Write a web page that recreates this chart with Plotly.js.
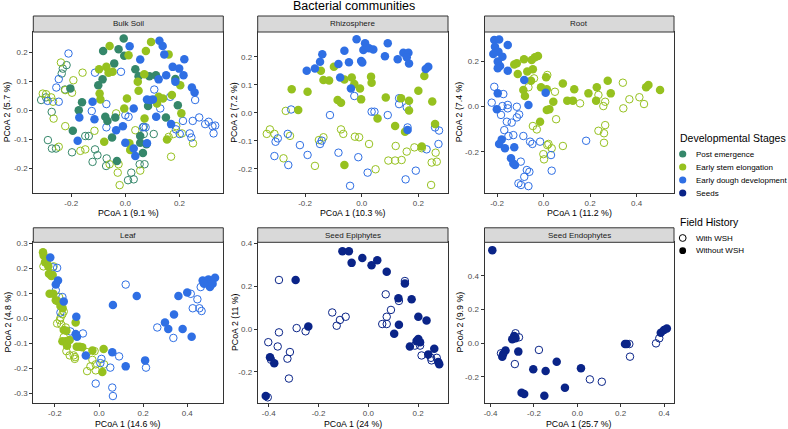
<!DOCTYPE html>
<html><head><meta charset="utf-8">
<script src="https://cdn.plot.ly/plotly-3.0.1.min.js"></script>
<style>html,body{margin:0;padding:0;background:#fff}#chart{width:788px;height:429px}</style>
</head><body><div id="chart"></div>
<script>
// ---------------- DATA ----------------
const stageNames = ['Post emergence','Early stem elongation','Early dough development','Seeds'];
const historyNames = ['With WSH','Without WSH'];
const panelNames = ['Bulk Soil','Rhizosphere','Root','Leaf','Seed Epiphytes','Seed Endophytes'];
const xTitles = ['PCoA 1 (9.1 %)','PCoA 1 (10.3 %)','PCoA 1 (11.2 %)','PCoA 1 (14.6 %)','PCoA 1 (24 %)','PCoA 1 (25.7 %)'];
const yTitles = ['PCoA 2 (5.7 %)','PCoA 2 (7.2 %)','PCoA 2 (7.4 %)','PCoA 2 (4.8 %)','PCoA 2 (11 %)','PCoA 2 (9.9 %)'];

// Bulk Soil
const bulk_post_without = [[-0.006,0.248],[-0.082,0.205],[-0.025,0.211],[-0.004,0.188],[-0.041,0.162],[0.037,0.142],[-0.084,0.107],[-0.100,0.087],[0.049,0.118],[0.089,0.118],[0.113,0.121],[0.185,0.108],[-0.203,0.076],[-0.160,0.028],[-0.172,0.001],[-0.074,-0.022],[-0.037,-0.024],[-0.066,-0.036],[0.150,-0.024],[-0.194,-0.070],[-0.049,-0.093],[0.055,-0.088],[0.055,-0.111],[0.078,-0.116],[0.065,-0.146],[-0.031,-0.174],[0.194,0.018],[0.084,0.015]];
const bulk_post_with = [[-0.286,-0.102],[-0.271,-0.131],[-0.256,-0.131],[-0.311,0.036],[-0.293,0.045],[-0.217,0.156],[-0.231,0.144],[-0.235,0.127],[-0.223,0.072],[-0.272,-0.005],[-0.112,-0.134],[-0.103,-0.154],[-0.121,-0.177],[-0.069,-0.165],[-0.071,-0.191],[0.022,-0.214],[0.010,-0.240],[0.031,-0.237],[-0.197,-0.144],[-0.148,-0.088],[-0.135,-0.088],[0.105,-0.081],[0.068,-0.056],[0.053,-0.185],[0.071,-0.185],[0.068,-0.081]];
const bulk_stem_without = [[-0.058,0.222],[0.012,0.190],[0.095,0.236],[0.076,0.205],[0.160,0.193],[-0.097,0.142],[-0.070,0.150],[-0.062,0.130],[-0.047,0.133],[0.070,0.125],[0.203,0.087],[-0.095,0.058],[-0.092,0.038],[0.006,0.041],[0.049,0.068],[0.046,0.099],[0.123,0.047],[0.139,0.041],[0.117,0.024],[-0.004,0.007],[0.071,-0.028],[-0.078,-0.108],[0.018,-0.136],[0.154,-0.100],[0.015,-0.113],[0.172,0.053],[0.207,-0.010]];
const bulk_stem_with = [[-0.238,0.165],[-0.222,0.070],[-0.197,0.061],[-0.293,0.056],[-0.274,0.045],[-0.267,0.030],[-0.265,-0.028],[-0.246,-0.125],[-0.166,-0.139],[-0.148,-0.134],[-0.222,-0.054],[0.188,-0.054],[0.178,-0.081],[0.209,-0.079],[0.250,-0.113],[0.160,-0.091],[0.169,-0.159],[-0.058,-0.185],[-0.025,-0.185],[-0.028,-0.214],[0.055,-0.207],[-0.021,-0.257],[-0.158,0.130],[-0.192,0.104],[-0.305,0.058],[-0.114,-0.070],[-0.034,-0.010],[0.037,-0.068]];
const bulk_dough_without = [[0.016,0.221],[0.126,0.240],[0.138,0.222],[0.144,0.193],[0.055,0.175],[0.175,0.150],[0.199,0.144],[0.151,0.121],[0.215,0.121],[0.246,0.079],[0.256,0.062],[0.092,0.036],[0.080,0.038],[0.102,0.038],[0.031,0.007],[-0.170,-0.024],[-0.114,-0.030],[0.114,-0.022],[0.169,-0.047],[-0.176,-0.104],[-0.009,-0.054],[0.000,-0.111],[0.031,-0.131],[0.037,-0.157],[0.123,0.107],[0.185,0.099],[0.080,-0.113],[-0.121,0.030],[-0.034,-0.068],[0.218,0.176]];
const bulk_dough_with = [[-0.210,0.196],[-0.016,0.133],[-0.246,0.108],[-0.255,0.079],[-0.246,0.030],[-0.287,0.033],[0.258,0.036],[0.107,0.072],[-0.070,0.022],[0.129,0.007],[0.000,-0.016],[0.012,-0.022],[0.213,-0.036],[0.249,-0.036],[0.273,-0.024],[0.295,-0.047],[0.308,-0.039],[0.322,-0.054],[0.332,-0.052],[0.201,-0.081],[0.238,-0.079],[0.065,-0.058],[0.075,-0.058],[-0.070,-0.058],[0.166,0.047],[0.326,-0.079],[0.187,-0.065],[0.244,-0.093],[-0.124,-0.002],[-0.112,0.130]];

// Rhizosphere
const rhizo_dough_without = [[-0.018,0.262],[0.012,0.248],[0.006,0.224],[0.026,0.230],[0.041,0.226],[0.092,0.248],[-0.061,0.221],[-0.139,0.209],[-0.147,0.182],[-0.082,0.174],[-0.045,0.180],[-0.002,0.185],[0.002,0.179],[0.082,0.202],[0.127,0.191],[0.147,0.214],[0.165,0.214],[0.159,0.198],[0.167,0.176],[-0.194,0.150],[-0.165,0.158],[0.235,0.164],[0.226,0.156],[-0.076,0.126],[-0.038,0.087],[0.162,-0.061]];
const rhizo_dough_with = [[-0.249,0.012],[-0.112,-0.008],[-0.026,0.060],[0.035,0.004],[0.045,0.004],[0.092,-0.008],[0.132,0.052],[0.132,0.031],[0.159,0.020],[0.259,-0.052],[0.273,-0.063],[-0.296,-0.091],[-0.304,-0.103],[-0.261,-0.075],[-0.218,-0.115],[-0.147,-0.111],[-0.141,-0.099],[-0.191,-0.150],[-0.082,-0.142],[-0.012,-0.158],[-0.308,-0.154],[-0.259,-0.186],[0.021,-0.213],[-0.041,-0.260],[0.155,-0.237],[0.191,-0.206],[0.271,-0.111],[0.229,-0.130],[0.162,-0.052]];
const rhizo_stem_without = [[-0.098,0.164],[-0.144,0.150],[-0.135,0.117],[-0.115,0.115],[-0.061,0.119],[-0.035,0.126],[-0.026,0.103],[-0.006,0.087],[-0.247,0.084],[-0.191,0.075],[-0.085,0.046],[-0.073,0.036],[-0.002,0.048],[-0.224,0.010],[0.033,0.129],[0.035,0.107],[0.085,0.055],[0.139,0.052],[0.167,0.043],[0.167,0.008],[0.200,0.079],[0.249,0.040],[0.221,0.131],[0.056,-0.020],[0.118,-0.047],[0.153,-0.067],[0.259,-0.040],[0.212,-0.120],[-0.061,-0.186]];
const rhizo_stem_with = [[-0.268,0.007],[-0.324,-0.059],[-0.335,-0.075],[-0.308,-0.075],[-0.253,-0.082],[-0.151,-0.097],[-0.135,-0.087],[-0.073,-0.059],[-0.065,-0.075],[-0.024,-0.085],[-0.009,-0.087],[0.026,-0.111],[0.120,-0.118],[0.159,-0.138],[0.186,-0.123],[0.212,-0.126],[0.261,-0.142],[-0.276,-0.162],[-0.165,-0.189],[0.094,-0.170],[0.118,-0.170],[0.141,-0.168],[0.247,-0.177],[0.265,-0.174],[0.245,-0.257],[0.049,-0.201]];

// Root
const root_dough_without = [[-0.212,0.293],[-0.191,0.296],[-0.154,0.271],[-0.209,0.264],[-0.194,0.242],[-0.216,0.232],[-0.177,0.220],[-0.197,0.198],[-0.187,0.179],[-0.197,0.169],[-0.154,0.158],[-0.083,0.117],[-0.197,0.058],[0.009,0.061],[-0.201,-0.012],[-0.065,0.007],[-0.180,-0.145],[-0.191,-0.165],[-0.166,-0.184],[-0.126,-0.180],[-0.140,-0.228],[-0.130,-0.251],[-0.123,-0.258]];
const root_dough_with = [[-0.212,0.087],[-0.223,0.017],[-0.177,0.002],[-0.154,0.007],[-0.154,-0.008],[-0.115,-0.001],[-0.183,-0.037],[-0.158,-0.067],[-0.115,-0.048],[-0.105,-0.035],[-0.169,-0.104],[-0.130,-0.126],[-0.087,-0.130],[-0.151,-0.130],[-0.058,-0.155],[-0.048,-0.165],[0.032,-0.214],[-0.072,-0.280],[-0.083,-0.310],[-0.108,-0.339],[-0.097,-0.346],[-0.065,-0.351],[-0.015,-0.155],[0.035,-0.283],[-0.061,-0.288],[0.183,-0.151],[-0.098,-0.243],[-0.173,0.055],[-0.137,-0.071]];
const root_stem_without = [[-0.115,0.191],[-0.126,0.185],[-0.084,0.208],[-0.051,0.205],[-0.037,0.217],[-0.024,0.223],[-0.111,0.143],[-0.070,0.154],[-0.046,0.164],[-0.054,0.114],[0.011,0.129],[0.083,0.102],[-0.011,0.085],[0.014,0.076],[-0.087,0.073],[-0.080,0.046],[0.042,0.021],[0.025,-0.012],[0.014,-0.015],[-0.015,-0.067],[0.132,0.076],[0.193,0.058],[0.229,0.085],[0.276,0.114],[0.289,0.058],[0.102,0.026],[0.126,0.026],[0.226,0.026],[0.441,0.085],[0.451,0.095],[0.501,0.073]];
const root_stem_with = [[-0.041,0.124],[0.016,0.139],[-0.065,0.085],[0.049,0.065],[0.157,0.014],[0.236,0.051],[0.265,0.021],[0.257,0.002],[0.341,0.105],[0.369,0.032],[0.412,0.041],[0.432,0.011],[0.343,-0.008],[0.054,-0.056],[-0.046,-0.086],[-0.029,-0.101],[0.016,-0.170],[0.035,-0.184],[-0.001,-0.210],[0.002,-0.233],[0.083,-0.174],[0.265,-0.082],[0.260,-0.118],[0.260,-0.160],[0.236,-0.107],[0.021,-0.165]];

// Leaf
const leaf_dough_without = [[-0.221,0.245],[-0.186,0.152],[-0.196,0.136],[-0.160,0.068],[-0.103,0.007],[-0.106,-0.062],[-0.100,-0.073],[0.063,0.054],[-0.060,-0.148],[0.060,-0.135],[0.121,-0.192],[0.171,0.090],[0.209,-0.168],[0.299,-0.016],[0.314,-0.042],[0.340,0.016],[0.379,-0.042],[0.420,-0.073],[0.360,0.090],[0.400,0.104],[0.470,0.152],[0.485,0.150],[0.496,0.156],[0.506,0.147],[0.526,0.163],[0.503,0.126],[0.476,0.139],[0.515,0.139]];
const leaf_dough_with = [[-0.209,0.205],[-0.190,0.203],[-0.166,0.086],[-0.196,0.113],[-0.175,0.024],[-0.130,-0.052],[-0.073,-0.060],[0.121,0.136],[0.011,-0.162],[0.006,-0.179],[0.051,-0.197],[0.091,-0.152],[-0.015,-0.261],[0.060,-0.277],[0.063,-0.311],[0.213,-0.197],[0.264,-0.036],[0.337,-0.078],[0.416,0.099],[0.446,0.077],[0.455,0.041],[0.465,0.030],[0.425,0.041],[0.461,0.126]];
const leaf_stem_without = [[-0.254,0.266],[-0.251,0.253],[-0.245,0.226],[-0.236,0.236],[-0.230,0.209],[-0.227,0.179],[-0.216,0.170],[-0.210,0.174],[-0.224,0.099],[-0.207,0.099],[-0.196,0.073],[-0.189,0.070],[-0.175,0.050],[-0.165,0.041],[-0.106,-0.016],[-0.160,-0.046],[-0.148,-0.049],[-0.166,-0.091],[-0.151,-0.091],[-0.145,-0.109],[-0.133,-0.086],[-0.101,-0.113],[-0.088,-0.113],[-0.076,-0.115],[-0.030,-0.128],[0.021,-0.122],[0.015,-0.215]];
const leaf_stem_with = [[-0.236,0.226],[-0.206,0.209],[-0.252,0.209],[-0.181,0.086],[-0.160,0.028],[-0.166,0.017],[-0.178,-0.007],[-0.190,-0.020],[-0.171,-0.025],[-0.151,-0.036],[-0.160,-0.075],[-0.148,-0.131],[-0.133,-0.148],[-0.115,-0.148],[-0.110,-0.162],[-0.054,-0.135],[-0.020,-0.131],[-0.030,-0.166],[-0.015,-0.184],[-0.039,-0.192],[-0.054,-0.211],[-0.015,-0.208],[-0.174,0.004],[0.023,-0.184],[-0.109,-0.155]];

// Seed Epiphytes
const epi_seeds_without = [[-0.104,0.364],[-0.078,0.364],[-0.067,0.310],[-0.024,0.333],[0.013,0.299],[0.036,0.322],[0.074,0.268],[-0.292,0.230],[0.147,0.213],[0.121,0.145],[0.174,0.140],[-0.241,0.012],[0.123,0.021],[0.201,0.058],[0.234,0.040],[0.104,-0.022],[0.201,-0.046],[0.194,-0.056],[0.208,-0.061],[0.167,-0.081],[0.265,-0.092],[0.241,-0.118],[0.281,-0.154],[0.285,-0.164],[-0.395,-0.131],[-0.378,-0.159],[-0.412,-0.313]];
const epi_seeds_with = [[-0.359,0.230],[0.147,0.225],[0.070,0.163],[0.123,0.132],[-0.145,0.078],[-0.091,0.058],[-0.114,0.043],[-0.127,0.016],[0.091,0.090],[0.074,0.058],[0.074,0.024],[0.056,0.024],[-0.288,0.005],[-0.252,-0.010],[-0.359,-0.015],[-0.402,-0.061],[-0.364,-0.081],[-0.315,-0.107],[-0.325,-0.138],[-0.319,-0.231],[-0.391,-0.143],[0.187,-0.077],[0.208,-0.077],[0.214,-0.123],[0.252,-0.134],[0.254,-0.146],[0.275,-0.134],[-0.404,-0.319]];

// Seed Endophytes
const endo_seeds_without = [[-0.392,0.553],[-0.291,0.043],[-0.285,0.029],[-0.300,0.023],[-0.331,-0.044],[-0.342,-0.064],[-0.346,-0.080],[-0.272,-0.050],[-0.203,-0.155],[-0.146,-0.165],[-0.095,-0.110],[0.017,-0.149],[-0.057,-0.264],[-0.257,-0.294],[-0.245,-0.302],[-0.152,-0.312],[0.220,-0.005],[0.228,-0.005],[0.385,0.062],[0.400,0.078],[0.413,0.088]];
const endo_seeds_with = [[-0.285,0.059],[-0.269,0.035],[-0.352,-0.060],[-0.288,-0.124],[-0.177,-0.040],[0.058,-0.215],[0.113,-0.229],[0.240,-0.005],[0.243,-0.080],[0.378,0.029],[0.363,-0.001]];

// Tick labels
const ticks2 = [-0.2, 0.0, 0.2];
const ticks2Text = ['-0.2','0.0','0.2'];
const ticks1 = [-0.2,-0.1,0.0,0.1,0.2];
const ticks1Text = ['-0.2','-0.1','0.0','0.1','0.2'];
const ticksRootX = [-0.2,0.0,0.2,0.4];
const ticksRootXText = ['-0.2','0.0','0.2','0.4'];
const ticksLeafY = [-0.3,-0.2,-0.1,0.0,0.1,0.2,0.3];
const ticksLeafYText = ['-0.3','-0.2','-0.1','0.0','0.1','0.2','0.3'];
const ticksEpiX = [-0.4,-0.2,0.0,0.2];
const ticksEpiXText = ['-0.4','-0.2','0.0','0.2'];
const ticksSeedY = [-0.2,0.0,0.2,0.4];
const ticksSeedYText = ['-0.2','0.0','0.2','0.4'];
const ticksEndoX = [-0.4,-0.2,0.0,0.2,0.4];
const ticksEndoXText = ['-0.4','-0.2','0.0','0.2','0.4'];

// ---------------- STYLE / LAYOUT ----------------
const W = 788, H = 429;
const FONT = 'Liberation Sans, Arial, Helvetica, sans-serif';
const stageColors = ['#35876A','#96C11F','#2F6FE4','#0A2488'];
const PX = p => p / W;
const PY = p => 1 - p / H;

const cols = [[33.3,223.3],[257.7,448],[484.5,674]];
const rows = [[32,192.7],[242.3,402.7]];
const strips = [[16,32],[227.8,242.3]];

const panelSeries = [
  [[0,0,bulk_post_with],[1,0,bulk_stem_with],[2,0,bulk_dough_with],[0,1,bulk_post_without],[1,1,bulk_stem_without],[2,1,bulk_dough_without]],
  [[1,0,rhizo_stem_with],[2,0,rhizo_dough_with],[1,1,rhizo_stem_without],[2,1,rhizo_dough_without]],
  [[1,0,root_stem_with],[2,0,root_dough_with],[1,1,root_stem_without],[2,1,root_dough_without]],
  [[1,0,leaf_stem_with],[2,0,leaf_dough_with],[1,1,leaf_stem_without],[2,1,leaf_dough_without]],
  [[3,0,epi_seeds_with],[3,1,epi_seeds_without]],
  [[3,0,endo_seeds_with],[3,1,endo_seeds_without]]
];
const ranges = [
  {x:[-0.340,0.362], y:[-0.283,0.270], xt:[ticks2,ticks2Text], yt:[ticks1,ticks1Text]},
  {x:[-0.367,0.3046], y:[-0.2845,0.288], xt:[ticks2,ticks2Text], yt:[ticks1,ticks1Text]},
  {x:[-0.254,0.561], y:[-0.380,0.3286], xt:[ticksRootX,ticksRootXText], yt:[ticks2,ticks2Text]},
  {x:[-0.298,0.5635], y:[-0.3377,0.3055], xt:[ticksRootX,ticksRootXText], yt:[ticksLeafY,ticksLeafYText]},
  {x:[-0.4444,0.3202], y:[-0.344,0.4062], xt:[ticksEpiX,ticksEpiXText], yt:[ticksSeedY,ticksSeedYText]},
  {x:[-0.428,0.446], y:[-0.3535,0.5995], xt:[ticksEndoX,ticksEndoXText], yt:[ticksSeedY,ticksSeedYText]}
];

const traces = [];
const layout = {
  width: W, height: H, margin:{l:0,r:0,t:0,b:0}, paper_bgcolor:'#fff', plot_bgcolor:'#fff',
  showlegend:false, font:{family:FONT, color:'#000'}, shapes:[], annotations:[]
};

panelSeries.forEach((series, i) => {
  const r = Math.floor(i/3), c = i%3;
  const sx = i === 0 ? '' : String(i+1);
  const rg = ranges[i];
  const axBase = {showline:true, mirror:true, linecolor:'#333333', linewidth:1, ticks:'outside', ticklen:3, tickwidth:1, tickcolor:'#333333',
    tickfont:{size:8, color:'#4d4d4d', family:FONT}, showgrid:false, zeroline:false, fixedrange:true, tickmode:'array', ticklabeloverflow:'allow'};
  layout['xaxis'+sx] = Object.assign({}, axBase, {domain:[PX(cols[c][0]),PX(cols[c][1])], range:rg.x, tickvals:rg.xt[0], ticktext:rg.xt[1], anchor:'y'+sx});
  layout['yaxis'+sx] = Object.assign({}, axBase, {domain:[PY(rows[r][1]),PY(rows[r][0])], range:rg.y, tickvals:rg.yt[0], ticktext:rg.yt[1], anchor:'x'+sx});
  series.forEach(([st, filled, pts]) => {
    traces.push({
      type:'scatter', mode:'markers', xaxis:'x'+sx, yaxis:'y'+sx, hoverinfo:'skip', cliponaxis:true,
      x: pts.map(p=>p[0]), y: pts.map(p=>p[1]),
      marker: filled ? {symbol:'circle', size:8.5, color:stageColors[st], line:{width:0}}
                     : {symbol:'circle-open', size:7.5, color:stageColors[st], line:{width:1, color:stageColors[st]}}
    });
  });
  // strip
  layout.shapes.push({type:'rect', xref:'paper', yref:'paper', x0:PX(cols[c][0]), x1:PX(cols[c][1]), y0:PY(strips[r][1]), y1:PY(strips[r][0]),
    fillcolor:'#d9d9d9', line:{color:'#333333', width:1}});
  layout.annotations.push({xref:'paper', yref:'paper', x:PX((cols[c][0]+cols[c][1])/2), y:PY((strips[r][0]+strips[r][1])/2),
    text:panelNames[i], showarrow:false, xanchor:'center', yanchor:'middle', font:{size:8, color:'#1a1a1a', family:FONT}});
  // axis titles
  layout.annotations.push({xref:'paper', yref:'paper', x:PX((cols[c][0]+cols[c][1])/2), y:PY(r===0?213:424),
    text:xTitles[i], showarrow:false, xanchor:'center', yanchor:'middle', font:{size:8.8, color:'#000', family:FONT}});
  const yx = [7, 234.5, 459][c];
  layout.annotations.push({xref:'paper', yref:'paper', x:PX(yx), y:PY((rows[r][0]+rows[r][1])/2),
    text:yTitles[i], textangle:-90, showarrow:false, xanchor:'center', yanchor:'middle', font:{size:8.8, color:'#000', family:FONT}});
});

// main title
layout.annotations.push({xref:'paper', yref:'paper', x:PX(353.5), y:PY(6), text:'Bacterial communities', showarrow:false,
  xanchor:'center', yanchor:'middle', font:{size:12.5, color:'#000', family:FONT}});

// legend (drawn manually)
const legX = 678, legSym = 682.7, legTxt = 694;
layout.annotations.push({xref:'paper', yref:'paper', x:PX(legX), y:PY(138), text:'Developmental Stages', showarrow:false, xanchor:'left', yanchor:'middle', font:{size:10.5, color:'#000', family:FONT}});
stageNames.forEach((s, k) => {
  const yy = 154 + 13*k;
  layout.shapes.push({type:'circle', xref:'paper', yref:'paper', xsizemode:'pixel', ysizemode:'pixel', xanchor:PX(legSym), yanchor:PY(yy),
    x0:-3.6, x1:3.6, y0:-3.6, y1:3.6, fillcolor:stageColors[k], line:{width:0}});
  layout.annotations.push({xref:'paper', yref:'paper', x:PX(legTxt), y:PY(yy), text:s, showarrow:false, xanchor:'left', yanchor:'middle', font:{size:8, color:'#000', family:FONT}});
});
layout.annotations.push({xref:'paper', yref:'paper', x:PX(legX), y:PY(221.7), text:'Field History', showarrow:false, xanchor:'left', yanchor:'middle', font:{size:10.5, color:'#000', family:FONT}});
historyNames.forEach((s, k) => {
  const yy = 238 + 12.7*k;
  layout.shapes.push({type:'circle', xref:'paper', yref:'paper', xsizemode:'pixel', ysizemode:'pixel', xanchor:PX(legSym), yanchor:PY(yy),
    x0:-3.4, x1:3.4, y0:-3.4, y1:3.4, fillcolor: k===1 ? '#000' : 'rgba(0,0,0,0)', line:{width: k===1 ? 0 : 1, color:'#000'}});
  layout.annotations.push({xref:'paper', yref:'paper', x:PX(legTxt), y:PY(yy), text:s, showarrow:false, xanchor:'left', yanchor:'middle', font:{size:8, color:'#000', family:FONT}});
});

Plotly.newPlot('chart', traces, layout, {staticPlot:true, displayModeBar:false});
</script>
</body></html>
